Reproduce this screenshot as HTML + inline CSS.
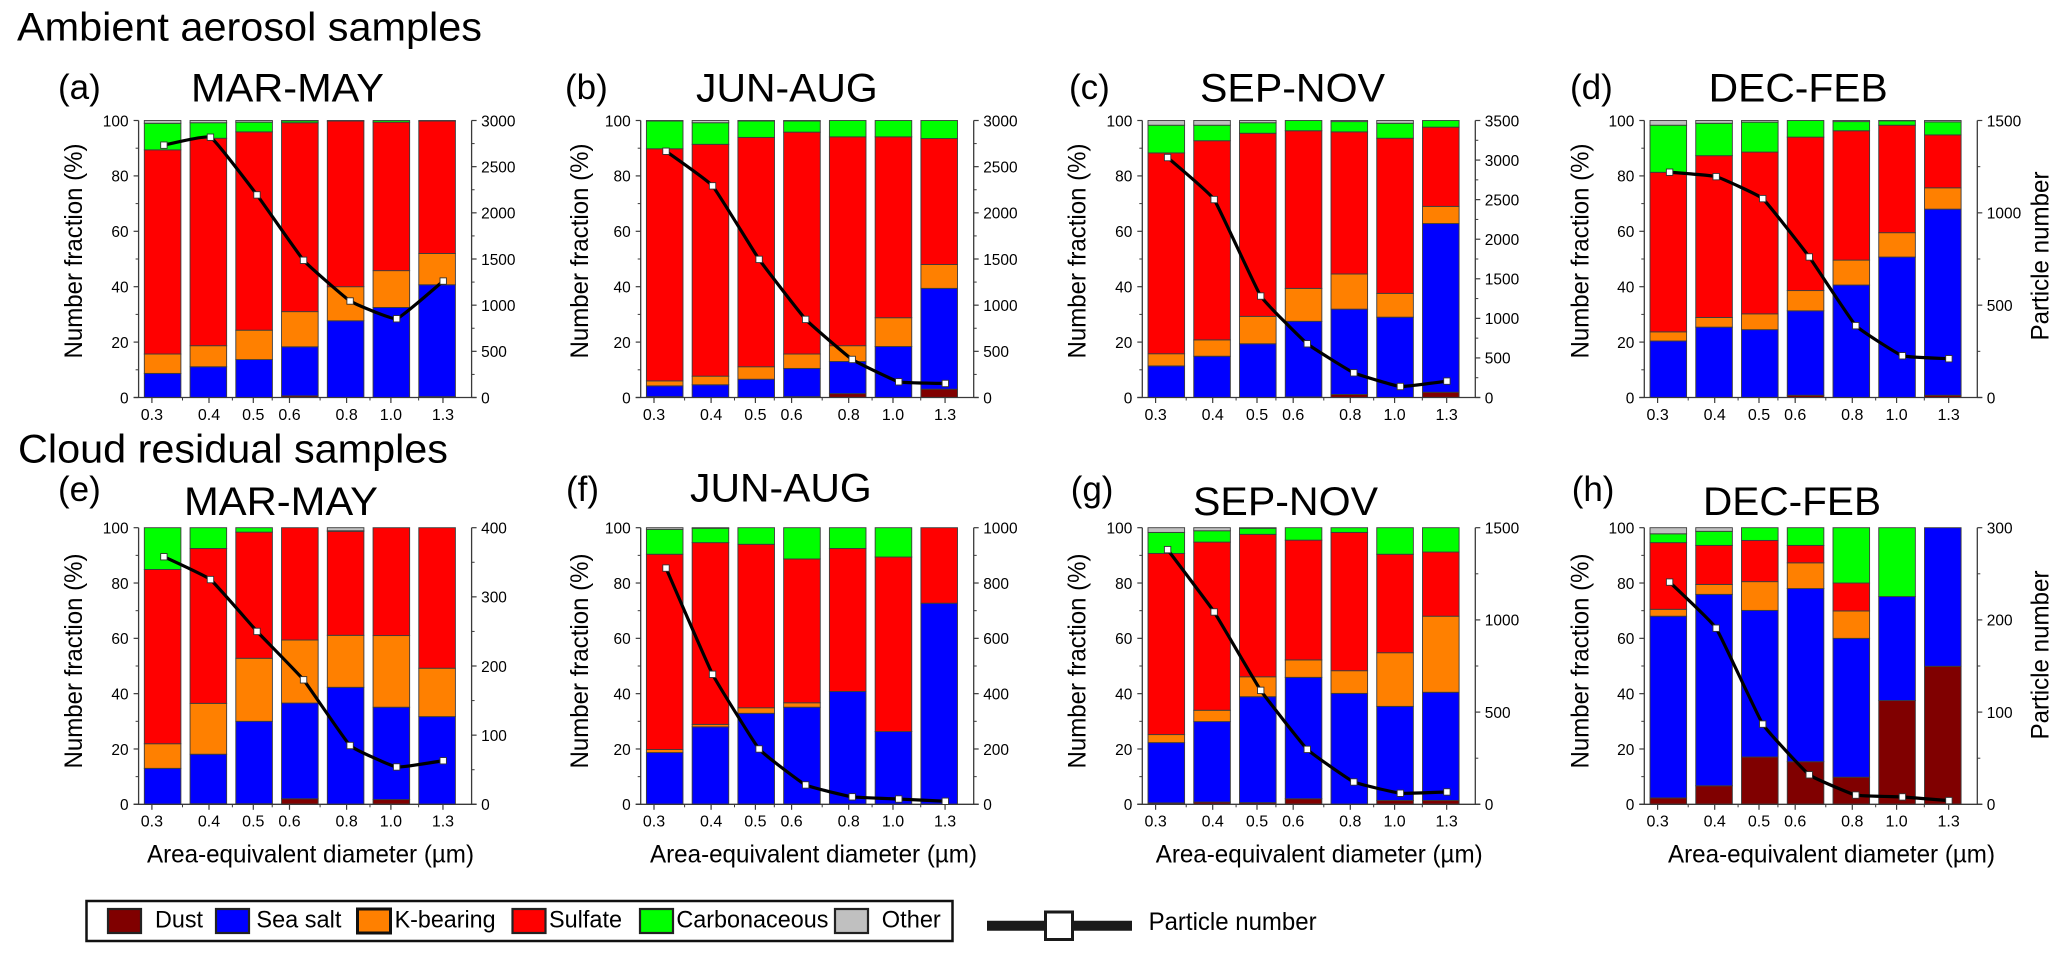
<!DOCTYPE html>
<html lang="en">
<head>
<meta charset="utf-8">
<title>Ambient aerosol and cloud residual samples</title>
<style>
  html, body { margin: 0; padding: 0; background: #fff; }
  svg { display: block; font-family: "Liberation Sans", Arial, sans-serif; fill: #000; }
</style>
</head>
<body>
<svg id="figure" xmlns="http://www.w3.org/2000/svg" width="2067" height="955" viewBox="0 0 2067 955">
  <rect x="0" y="0" width="2067" height="955" fill="#fff"/>
  <text x="17" y="40.7" font-size="40" textLength="465" lengthAdjust="spacingAndGlyphs">Ambient aerosol samples</text>
  <text x="18" y="462.7" font-size="40" textLength="430" lengthAdjust="spacingAndGlyphs">Cloud residual samples</text>

  <g>
    <rect x="86.5" y="901" width="866" height="40" fill="#fff" stroke="#111" stroke-width="2.5"/>
    <rect x="108" y="909" width="33" height="24" fill="#800000" stroke="#222" stroke-width="2.2"/>
    <text x="155" y="927.5" font-size="24" textLength="48" lengthAdjust="spacingAndGlyphs">Dust</text>
    <rect x="216" y="909" width="33" height="24" fill="#0000ff" stroke="#222" stroke-width="2.2"/>
    <text x="256.4" y="927.5" font-size="24" textLength="85" lengthAdjust="spacingAndGlyphs">Sea salt</text>
    <rect x="357.5" y="909" width="33" height="24" fill="#ff8000" stroke="#111" stroke-width="3"/>
    <text x="394.6" y="927.5" font-size="24" textLength="101" lengthAdjust="spacingAndGlyphs">K-bearing</text>
    <rect x="512.5" y="909" width="33" height="24" fill="#ff0000" stroke="#222" stroke-width="2.2"/>
    <text x="549" y="927.5" font-size="24" textLength="73" lengthAdjust="spacingAndGlyphs">Sulfate</text>
    <rect x="640" y="909" width="33" height="24" fill="#00ff00" stroke="#222" stroke-width="2.2"/>
    <text x="676.4" y="927.5" font-size="24" textLength="152" lengthAdjust="spacingAndGlyphs">Carbonaceous</text>
    <rect x="835" y="909" width="33" height="24" fill="#c0c0c0" stroke="#222" stroke-width="2.2"/>
    <text x="881.8" y="927.5" font-size="24" textLength="59" lengthAdjust="spacingAndGlyphs">Other</text>
  </g>

  <g>
    <line x1="987" y1="925.7" x2="1132" y2="925.7" stroke="#1a1a1a" stroke-width="10"/>
    <rect x="1045.5" y="912" width="27" height="27.5" fill="#fff" stroke="#1a1a1a" stroke-width="3"/>
    <text x="1148.6" y="930" font-size="25" textLength="168" lengthAdjust="spacingAndGlyphs">Particle number</text>
  </g>

  <g id="panels"></g>
</svg>

<script>
// ---------- Data ----------
// Each series: one row per panel (a-h), one value per size bin.
const sizeBins = ['0.3-0.35', '0.35-0.45', '0.45-0.55', '0.55-0.7', '0.7-0.9', '0.9-1.15', '1.15-1.5'];

const dust = [
  [0, 0, 0, 0.6, 0, 0, 0.3],
  [0.3, 0, 0, 0.3, 1.4, 0, 3],
  [0, 0, 0, 0.2, 1.1, 0, 1.9],
  [0, 0, 0, 0.8, 0, 0, 0.8],
  [0, 0.2, 0.2, 2, 0, 1.7, 0],
  [0, 0, 0, 0, 0, 0, 0],
  [0.5, 0.8, 0.6, 2, 0, 1.4, 1.4],
  [2.3, 6.7, 17.1, 15.4, 9.8, 37.5, 49.9]
];
const seaSalt = [
  [8.7, 11.1, 13.7, 17.7, 27.7, 32.5, 40.4],
  [3.9, 4.6, 6.6, 10.2, 11.6, 18.4, 36.4],
  [11.4, 14.9, 19.4, 27.3, 30.8, 29, 60.9],
  [20.4, 25.4, 24.5, 30.5, 40.6, 50.7, 67.2],
  [13, 17.9, 29.8, 34.6, 42.3, 33.4, 31.7],
  [18.7, 28, 32.9, 35.1, 40.8, 26.3, 72.7],
  [21.8, 29.1, 38.3, 43.9, 40.1, 34, 39.1],
  [65.7, 69.2, 53, 62.6, 50.2, 37.6, 50.1]
];
const kBearing = [
  [7, 7.6, 10.6, 12.7, 12.3, 13.3, 11.3],
  [1.8, 3.1, 4.5, 5.2, 5.7, 10.4, 8.6],
  [4.4, 5.9, 9.9, 11.9, 12.7, 8.6, 6.2],
  [3.3, 3.5, 5.7, 7.3, 9, 8.8, 7.7],
  [8.9, 18.4, 22.8, 22.8, 18.8, 25.9, 17.5],
  [1.1, 0.9, 2, 1.6, 0, 0, 0],
  [2.9, 4.1, 7.2, 6.3, 8.2, 19.4, 27.5],
  [2.5, 3.6, 10.4, 9.3, 9.9, 0, 0]
];
const sulfate = [
  [73.7, 74.9, 71.6, 68.2, 59.8, 53.6, 47.8],
  [83.8, 83.7, 82.8, 80.1, 75.4, 65.3, 45.5],
  [72.5, 71.9, 66.1, 56.9, 51.3, 56, 28.6],
  [57.6, 58.4, 58.4, 55.4, 46.7, 38.8, 19.1],
  [63, 56, 45.6, 40.6, 37.6, 39, 50.8],
  [70.6, 65.7, 59.1, 52, 51.7, 63.1, 27.3],
  [65.5, 60.8, 51.5, 43.3, 50, 35.6, 23.2],
  [24.1, 14.1, 14.9, 6.3, 10.1, 0, 0]
];
const carbonaceous = [
  [9.6, 5.6, 3.5, 0.7, 0.2, 0.6, 0.2],
  [10, 7.8, 5.9, 4, 5.9, 5.9, 6.5],
  [10, 5.6, 3.8, 3.7, 3.7, 5.4, 2.4],
  [17, 11.7, 10.8, 6, 3.3, 1.6, 4.7],
  [15.1, 7.5, 1.6, 0, 0.2, 0, 0],
  [9, 5.2, 6, 11.3, 7.5, 10.6, 0],
  [7.6, 4.1, 2.2, 4.5, 1.7, 9.6, 8.8],
  [3.2, 5.1, 4.6, 6.4, 20, 24.9, 0]
];
const other = [
  [1, 0.8, 0.6, 0.1, 0, 0, 0],
  [0.2, 0.8, 0.2, 0.2, 0, 0, 0],
  [1.7, 1.7, 0.8, 0, 0.4, 1, 0],
  [1.7, 1, 0.6, 0, 0.4, 0.1, 0.5],
  [0, 0, 0, 0, 1.1, 0, 0],
  [0.6, 0.2, 0, 0, 0, 0, 0],
  [1.7, 1.1, 0.2, 0, 0, 0, 0],
  [2.2, 1.3, 0, 0, 0, 0, 0]
];
const particleNumber = [
  [2733, 2819, 2194, 1486, 1045, 853, 1261],
  [2667, 2292, 1496, 846, 412, 170, 152],
  [3032, 2501, 1282, 679, 312, 139, 207],
  [1220, 1196, 1077, 761, 389, 226, 210],
  [358, 325, 250, 180, 85, 54, 63],
  [854, 470, 200, 70, 27, 19, 11],
  [1381, 1043, 618, 298, 121, 60, 67],
  [241, 191, 87, 32, 10, 8, 4]
];

// ---------- Axis definitions ----------
const panelLetters = ['(a)', '(b)', '(c)', '(d)', '(e)', '(f)', '(g)', '(h)'];
const panelTitles = ['MAR-MAY', 'JUN-AUG', 'SEP-NOV', 'DEC-FEB', 'MAR-MAY', 'JUN-AUG', 'SEP-NOV', 'DEC-FEB'];
const rightAxisMax = [3000, 3000, 3500, 1500, 400, 1000, 1500, 300];
const rightAxisStep = [500, 500, 500, 500, 100, 200, 500, 100];
const xTickValues = [0.3, 0.4, 0.5, 0.6, 0.8, 1.0, 1.3];
const xTickLabels = ['0.3', '0.4', '0.5', '0.6', '0.8', '1.0', '1.3'];
const xMinorTickValues = [0.35, 0.45, 0.55, 0.7, 0.9, 1.15];
const leftTickValues = [0, 20, 40, 60, 80, 100];
const leftMinorTickValues = [10, 30, 50, 70, 90];

const seriesList = [dust, seaSalt, kBearing, sulfate, carbonaceous, other];
const seriesNames = ['dust', 'sea-salt', 'k-bearing', 'sulfate', 'carbonaceous', 'other'];
const seriesColors = ['#800000', '#0000ff', '#ff8000', '#ff0000', '#00ff00', '#c0c0c0'];

// ---------- Layout (pixels; not data) ----------
const layoutTop = { y100: 120.5, y0: 397.5 };
const layoutBottom = { y100: 527.7, y0: 804.3 };
const columnLeft = [138.6, 640.7, 1142.3, 1644.3];
const columnYTitleOffset = [-56.5, -52.5, -57, -55.6];
const letterXByPanel = [58, 565, 1069, 1570, 58, 566, 1070.7, 1571.7];
const titleXByPanel = [191, 696, 1200, 1708.7, 184, 690, 1193, 1703];
const titleWByPanel = [193, 181.7, 185, 179, 194, 181.7, 185, 178];
const titleYByPanel = [101.7, 101.7, 101.7, 101.7, 515, 501.7, 515, 515];
const xTitleXByColumn = [147, 650, 1155.7, 1668];
const PLOT_W = 333;

const SVGNS = 'http://www.w3.org/2000/svg';
const root = document.getElementById('panels');

function mk(tag, attrs, parent, text) {
  const el = document.createElementNS(SVGNS, tag);
  for (const k in attrs) el.setAttribute(k, attrs[k]);
  if (text !== undefined) el.textContent = text;
  parent.appendChild(el);
  return el;
}

function smoothPath(pts) {
  const k = 0.05;
  let d = 'M' + pts[0][0].toFixed(2) + ' ' + pts[0][1].toFixed(2);
  for (let i = 0; i < pts.length - 1; i++) {
    const p0 = pts[Math.max(i - 1, 0)], p1 = pts[i], p2 = pts[i + 1], p3 = pts[Math.min(i + 2, pts.length - 1)];
    const c1x = p1[0] + (p2[0] - p0[0]) * k, c1y = p1[1] + (p2[1] - p0[1]) * k;
    const c2x = p2[0] - (p3[0] - p1[0]) * k, c2y = p2[1] - (p3[1] - p1[1]) * k;
    d += 'C' + c1x.toFixed(2) + ' ' + c1y.toFixed(2) + ' ' + c2x.toFixed(2) + ' ' + c2y.toFixed(2) + ' ' + p2[0].toFixed(2) + ' ' + p2[1].toFixed(2);
  }
  return d;
}

panelTitles.forEach(function (title, p) {
  const col = p % 4;
  const row = p < 4 ? layoutTop : layoutBottom;
  const left = columnLeft[col];
  const right = left + PLOT_W;
  const yPct = function (v) { return row.y0 - (row.y0 - row.y100) * v / 100; };
  const yNum = function (v) { return row.y0 - (row.y0 - row.y100) * v / rightAxisMax[p]; };
  const xBar = function (i) { return left + 24 + 45.75 * i; };
  const xLine = function (i) { return left + 25.3 + 46.55 * i; };
  const xLog = function (d) { return left + 13.3 + 198.5 * Math.log(d / 0.3); };
  const BAR_W = 36.6;
  const AXIS = '#3a3a3a';

  const g = mk('g', {}, root);
  
  

  // Panel letter and title
  const letter = mk('text', { x: letterXByPanel[p], y: p < 4 ? 99 : 501, 'font-size': 35 }, g, panelLetters[p]);
  
  
  const ttl = mk('text', { x: titleXByPanel[p], y: titleYByPanel[p], 'font-size': 40, textLength: titleWByPanel[p], lengthAdjust: 'spacingAndGlyphs' }, g, title);
  
  

  // Stacked bars
  sizeBins.forEach(function (bin, i) {
    let base = 0;
    seriesList.forEach(function (series, s) {
      const v = series[p][i];
      if (v <= 0) return;
      const top = base + v;
      const seg = mk('rect', { x: xBar(i) - BAR_W / 2, y: yPct(top), width: BAR_W, height: yPct(base) - yPct(top), fill: seriesColors[s], stroke: '#3c3c3c', 'stroke-width': 0.9 }, g);
      
      
      base = top;
    });
  });

  // Axes
  const leftAxis = mk('line', { x1: left, y1: row.y100, x2: left, y2: row.y0, stroke: AXIS, 'stroke-width': 1.3 }, g);
  
  
  const rightAxis = mk('line', { x1: right, y1: row.y100, x2: right, y2: row.y0, stroke: AXIS, 'stroke-width': 1.3 }, g);
  
  
  const xAxis = mk('line', { x1: left - 5, y1: row.y0, x2: right + 5, y2: row.y0, stroke: AXIS, 'stroke-width': 1.3 }, g);
  
  

  // Left ticks
  leftTickValues.forEach(function (v) {
    const t = mk('line', { x1: left - 5, y1: yPct(v), x2: left, y2: yPct(v), stroke: AXIS, 'stroke-width': 1.2 }, g);
    
    
    const l = mk('text', { x: left - 10, y: yPct(v) + 5.8, 'font-size': 16, 'text-anchor': 'end', textLength: String(v).length * 8.6, lengthAdjust: 'spacingAndGlyphs' }, g, String(v));
    
    
  });
  leftMinorTickValues.forEach(function (v) {
    const t = mk('line', { x1: left - 3, y1: yPct(v), x2: left, y2: yPct(v), stroke: AXIS, 'stroke-width': 1 }, g);
    
    
  });

  // Right ticks
  const step = rightAxisStep[p];
  for (let v = 0; v <= rightAxisMax[p]; v += step) {
    const t = mk('line', { x1: right, y1: yNum(v), x2: right + 5, y2: yNum(v), stroke: AXIS, 'stroke-width': 1.2 }, g);
    
    
    const l = mk('text', { x: right + 9.5, y: yNum(v) + 5.8, 'font-size': 16, textLength: String(v).length * 8.6, lengthAdjust: 'spacingAndGlyphs' }, g, String(v));
    
    
    if (v < rightAxisMax[p]) {
      const m = mk('line', { x1: right, y1: yNum(v + step / 2), x2: right + 3, y2: yNum(v + step / 2), stroke: AXIS, 'stroke-width': 1 }, g);
      
      
    }
  }

  // X ticks
  xTickValues.forEach(function (d, i) {
    const t = mk('line', { x1: xLog(d), y1: row.y0, x2: xLog(d), y2: row.y0 + 5.5, stroke: AXIS, 'stroke-width': 1.2 }, g);
    
    
    const l = mk('text', { x: xLog(d), y: row.y0 + 22.4, 'font-size': 16, 'text-anchor': 'middle' }, g, xTickLabels[i]);
    
    
  });
  xMinorTickValues.forEach(function (d) {
    const t = mk('line', { x1: xLog(d), y1: row.y0, x2: xLog(d), y2: row.y0 + 3, stroke: AXIS, 'stroke-width': 1 }, g);
    
    
  });

  // Axis titles
  const yTitleX = left + columnYTitleOffset[col];
  const yTitleY = p < 4 ? 251 : 661;
  const yTitle = mk('text', { x: yTitleX, y: yTitleY, 'font-size': 25, 'text-anchor': 'middle', transform: 'rotate(-90 ' + yTitleX + ' ' + yTitleY + ')', textLength: 215, lengthAdjust: 'spacingAndGlyphs' }, g, 'Number fraction (%)');
  
  
  if (col === 3) {
    const rY = p < 4 ? 256 : 655;
    const rTitle = mk('text', { x: 2048.7, y: rY, 'font-size': 25, 'text-anchor': 'middle', transform: 'rotate(-90 2048.7 ' + rY + ')', textLength: 169, lengthAdjust: 'spacingAndGlyphs' }, g, 'Particle number');
    
    
  }
  if (p >= 4) {
    const xTitle = mk('text', { x: xTitleXByColumn[col], y: 862.7, 'font-size': 25, textLength: 327, lengthAdjust: 'spacingAndGlyphs' }, g, 'Area-equivalent diameter (\u00B5m)');
    
    
  }

  // Particle number line + markers
  const pts = particleNumber[p].map(function (v, i) { return [xLine(i), yNum(v)]; });
  const path = mk('path', { d: smoothPath(pts), fill: 'none', stroke: '#000', 'stroke-width': 3.2, 'stroke-linejoin': 'round' }, g);
  
  
  pts.forEach(function (pt) {
    const m = mk('rect', { x: pt[0] - 3.2, y: pt[1] - 3.2, width: 6.4, height: 6.4, fill: '#fff', stroke: '#333', 'stroke-width': 0.9 }, g);
    
    
  });
});
</script>
</body>
</html>
